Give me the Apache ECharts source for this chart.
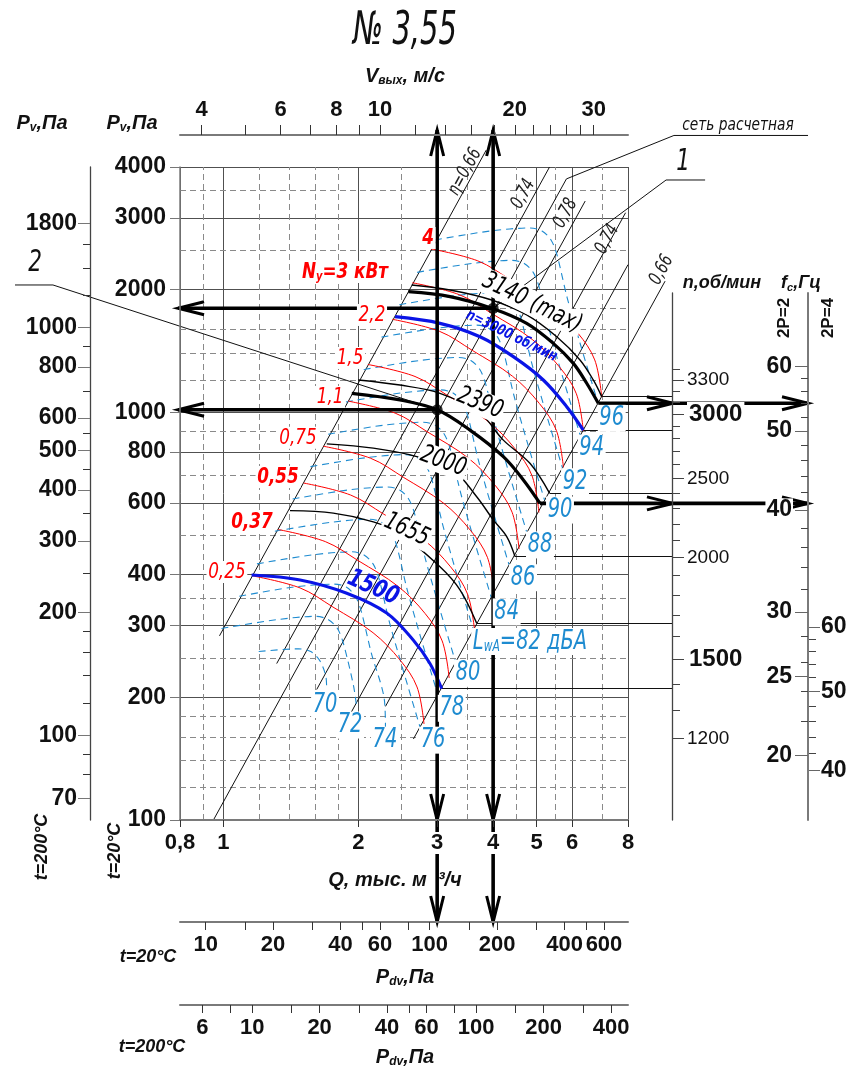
<!DOCTYPE html>
<html><head><meta charset="utf-8"><title>Fan chart 3.55</title>
<script src="https://cdn.jsdelivr.net/npm/echarts@6.0.0/dist/echarts.min.js"></script>
<style>html,body{margin:0;padding:0;background:#fff;}#chart{width:849px;height:1067px;}</style>
</head><body><div id="chart"></div>
<script>
// ---------------- axis tick values ----------------
const qLabels = [0.8, 1, 2, 3, 4, 5, 6, 8];
const pv20Labels = [100, 200, 300, 400, 600, 800, 1000, 2000, 3000, 4000];
const pv200Labels = [70, 100, 200, 300, 400, 500, 600, 800, 1000, 1800];
const pv200Minor = [80, 90, 120, 140, 160, 180, 250, 350, 450, 550, 700, 900, 1200, 1400, 1600];
const vLabels = [4, 6, 8, 10, 20, 30];
const vTicks = [4, 5, 6, 7, 8, 9, 10, 12, 14, 16, 18, 20, 22, 24, 26, 28, 30];
const pdv20Labels = [10, 20, 40, 60, 100, 200, 400, 600];
const pdv20Ticks = [10, 15, 20, 30, 40, 50, 60, 80, 100, 150, 200, 300, 400, 500, 600];
const pdv200Labels = [6, 10, 20, 40, 60, 100, 200, 400];
const pdv200Ticks = [6, 8, 10, 15, 20, 30, 40, 50, 60, 80, 100, 150, 200, 300, 400];
const nLabels = [1200, 1500, 2000, 2500, 3000, 3300];
const nMinor = [1300, 1400, 1600, 1700, 1800, 1900, 2100, 2200, 2300, 2400, 2600, 2700, 2800, 2900, 3100, 3200, 3400];
const f2Labels = [20, 25, 30, 40, 50, 60];
const f2Minor = [22, 24, 26, 28, 32, 34, 36, 38, 42, 44, 46, 48, 52, 54, 56, 58];
const f4Labels = [40, 50, 60];
const f4Minor = [42, 44, 46, 48, 52, 54, 56, 58];
const gridQSolid = [0.8, 1, 2, 3, 4, 5, 6, 8];
const gridQDashed = [0.9, 1.2, 1.4, 1.6, 1.8, 2.5, 3.5, 4.5, 5.5, 7];
const gridPSolid = [100, 200, 300, 400, 600, 800, 1000, 2000, 3000, 4000];
const gridPDashed = [120, 140, 160, 180, 250, 350, 500, 700, 900, 1200, 1400, 1600, 1800, 2500, 3500];

// scale relations between the auxiliary axes and Q / Pv(20°C)
const Q_PER_V = 0.2235, PDV20_K = 12.0, PDV200_K = 7.44, T_RATIO = 0.6195;
const N_MIN = 953, N_MAX = 4222, F2_K = 57.2, F4_K = 27.4;

// ---------------- fan curves [Q thousand m3/h, Pv Pa] ----------------
const curve3140 = [[2.632,2054],[3.205,1997],[3.970,1887],[4.753,1734],[5.546,1533],[6.251,1345],[6.693,1201],[6.988,1093]];
const curveOp1 = [[2.587,1978],[3.205,1923],[3.970,1801],[4.753,1654],[5.449,1477],[6.041,1319],[6.470,1179],[6.867,1053]];
const curve3000 = [[2.416,1717],[3.044,1654],[3.739,1533],[4.437,1370],[5.176,1201],[5.838,1033],[6.358,905]];
const curve2390 = [[2.0,1201],[2.478,1167],[3.044,1114],[3.739,995],[4.215,855],[4.833,750],[5.345,634]];
const curveOp2 = [[1.934,1114],[2.478,1073],[3.0,1015],[3.551,905],[4.215,779],[4.672,683],[5.089,598]];
const curve2000 = [[1.701,837],[2.161,817],[2.701,779],[3.255,722],[3.676,621],[4.003,545],[4.289,496],[4.476,443]];
const curve1655 = [[1.408,574],[1.759,566],[2.161,539],[2.478,505],[3.044,418],[3.373,367],[3.676,304]];
const curve1500 = [[1.156,399],[1.483,388],[1.885,360],[2.314,322],[2.655,276],[2.891,242],[3.071,210]];

// ---------------- power lines (kW) ----------------
const red025 = [[1.164,397],[1.483,371],[1.756,333],[2.158,288],[2.478,247],[2.705,212],[2.804,172]];
const red037 = [[1.325,516],[1.688,482],[1.998,433],[2.456,374],[2.820,321],[3.078,275],[3.191,223]];
const red055 = [[1.510,671],[1.923,627],[2.278,563],[2.799,487],[3.214,418],[3.508,358],[3.637,291]];
const red075 = [[1.672,826],[2.130,772],[2.522,693],[3.099,599],[3.558,514],[3.884,441],[4.027,358]];
const red110 = [[1.897,1066],[2.417,996],[2.862,894],[3.518,773],[4.039,663],[4.409,569],[4.571,462]];
const red150 = [[2.101,1311],[2.677,1225],[3.170,1099],[3.895,951],[4.473,815],[4.883,700],[5.061,568]];
const red220 = [[2.383,1692],[3.036,1581],[3.595,1419],[4.417,1227],[5.072,1052],[5.537,903],[5.740,733]];
const red300 = [[2.640,2080],[3.363,1944],[3.983,1745],[4.894,1509],[5.620,1294],[6.135,1111],[6.359,901]];
const red400 = [[2.902,2519],[3.697,2354],[4.378,2113],[5.380,1827],[6.178,1567],[6.743,1345],[6.990,1091]];

// ---------------- sound power level lines LwA (dB) ----------------
const lwa96 = [[2.966,2649],[3.936,2786],[4.833,2835],[5.142,2786],[5.386,2649],[5.554,2434],[5.847,1919],[6.251,1480],[6.856,1055]];
const lwa94 = [[2.707,2206],[3.592,2320],[4.411,2361],[4.693,2320],[4.915,2206],[5.069,2027],[5.336,1598],[5.705,1233],[6.257,879]];
const lwa92 = [[2.470,1837],[3.278,1932],[4.025,1966],[4.282,1932],[4.485,1837],[4.625,1688],[4.869,1331],[5.206,1027],[5.710,732]];
const lwa90 = [[2.254,1530],[2.991,1609],[3.673,1637],[3.908,1609],[4.093,1530],[4.221,1406],[4.444,1108],[4.751,855],[5.211,609]];
const lwa88 = [[2.057,1274],[2.730,1340],[3.352,1364],[3.567,1340],[3.736,1274],[3.852,1171],[4.055,923],[4.336,712],[4.755,508]];
const lwa86 = [[1.877,1061],[2.492,1116],[3.059,1136],[3.255,1116],[3.409,1061],[3.516,975],[3.701,769],[3.957,593],[4.340,423]];
const lwa84 = [[1.713,884],[2.274,930],[2.792,946],[2.971,930],[3.112,884],[3.209,812],[3.378,640],[3.611,494],[3.961,352]];
const lwa82 = [[1.564,736],[2.075,774],[2.548,788],[2.711,774],[2.840,736],[2.928,676],[3.083,533],[3.296,411],[3.614,293]];
const lwa80 = [[1.427,613],[1.894,645],[2.325,656],[2.474,645],[2.591,613],[2.672,564],[2.813,444],[3.007,343],[3.298,244]];
const lwa78 = [[1.302,511],[1.728,537],[2.122,547],[2.258,537],[2.365,511],[2.439,469],[2.567,370],[2.745,285],[3.010,203]];
const lwa76 = [[1.188,425],[1.577,447],[1.937,455],[2.060,447],[2.158,425],[2.225,391],[2.343,308],[2.505,238],[2.747,169]];
const lwa74 = [[1.085,354],[1.439,373],[1.767,379],[1.880,373],[1.970,354],[2.031,325],[2.138,257],[2.286,198],[2.30,168]];
const lwa72 = [[0.990,295],[1.313,310],[1.613,316],[1.716,310],[1.797,295],[1.853,271],[1.951,214],[1.98,192]];
const lwa70 = [[1.199,259],[1.472,263],[1.566,259],[1.641,246],[1.692,226],[1.70,210]];

// ---------------- straight system / efficiency lines ----------------
const effLeft066 = [[0.98,283],[3.86,4400]];
const effLeft074 = [[1.315,242],[5.345,4000]];
const netLine = [[0.95,100],[5.83,3740],[10.13,4780],[20.18,4780]];
const effMid = [[1.615,209],[6.42,3300]];
const effRight074 = [[1.93,184],[7.9,3089]];
const effExtra = [[2.3,190],[8.0,2304]];
const effRight066 = [[2.655,158],[9.68,2099]];
const leader1 = [[4,1801],[9.73,3717],[11.89,3717]];
const leader2 = [[3,1015],[0.4164,2054],[0.3426,2054]];
const endLineStarts = [[6.988,1093],[6.358,905],[5.345,634],[4.476,443],[3.676,304],[3.071,210]];
const N_AXIS_Q = 10.08, F_AXIS_Q = 20.18;

// ---------------- operating points and arrows [q1,p1,q2,p2] ----------------
const opPoints = [[3,1015],[4,1801]];
const arrows = [
  [3,1015,3,4930],[3,1015,3,100],[3,100,3,56.2],
  [4,1801,4,4930],[4,1801,4,100],[4,100,4,56.2],
  [3,1015,0.792,1015],[4,1801,0.792,1801],
  [6.867,1053,N_AXIS_Q,1053],[N_AXIS_Q,1053,F_AXIS_Q,1053],
  [5.089,598,N_AXIS_Q,598],[N_AXIS_Q,598,F_AXIS_Q,598]
];

// ---------------- in-plot labels [text, Q, Pv, ...] ----------------
const powerLabels = [['4',2.862,2679,true],['2,2',2.146,1734,false],['1,5',1.917,1360,false],['1,1',1.73,1091,false],
  ['0,75',1.467,866,false],['0,55',1.324,694,true],['0,37',1.158,538,true],['0,25',1.018,406,false]];
const nyLabel = [1.868, 2211];
const lwaLabels = [['96',7.358,967],['94',6.638,817],['92',6.094,676],['90',5.64,576],['88',5.089,473],['86',4.664,393],
  ['84',4.289,324],['80',3.515,229],['78',3.234,188],['76',2.937,157],['74',2.294,157],['72',1.917,171],['70',1.686,192]];
const lwaTitleLabel = [4.833, 274];
const speedLabels = [['3140 (max)',4.886,1855,-26],['2390',3.739,1053,-22],['2000',3.096,757,-20],['1655',2.565,515,-25]];
const blueLabels = [['1500',2.158,371,-24,25],['n=3000 об/мин',4.396,1540,-26,15]];
const effLabels = [['η=0,66',3.461,3889],['0,74',4.672,3434],['0,78',5.807,3080],['0,74',7.194,2659],['0,66',9.51,2236]];

// ================================================================
const NARROW = "'Liberation Sans Narrow','DejaVu Sans Condensed','Liberation Sans',Arial,sans-serif";
const SANS = "'Liberation Sans',Arial,sans-serif";
const comma = v => String(v).replace('.', ',');
const RED = '#ff0000', BLUE = '#0a14e6', LBLUE = '#1e8bd0';

function logAxis(o) {
  return Object.assign({type: 'log', logBase: 10, splitLine: {show: false}, minorTick: {show: false},
    minorSplitLine: {show: false}, axisPointer: {show: false}, silent: true}, o);
}
function tk(values, len, color) {
  return {show: true, customValues: values, length: len, lineStyle: {color: color || '#333', width: 1}};
}
function lb(values, o) {
  return Object.assign({show: true, customValues: values, formatter: v => comma(v), color: '#111',
    fontFamily: SANS, fontWeight: 'bold', fontSize: 22}, o || {});
}
const noLine = {show: false};
const noLabel = {show: false};

function curve(data, color, width, extra) {
  return Object.assign({type: 'line', xAxisIndex: 0, yAxisIndex: 0, data: data, smooth: 0.35, symbol: 'none',
    showSymbol: false, silent: true, z: 2, clip: false, lineStyle: {color: color, width: width}}, extra || {});
}
function segs(list) { return list.map(c => ({coords: c})); }

const series = [];
series.push({type: 'lines', coordinateSystem: 'cartesian2d', xAxisIndex: 0, yAxisIndex: 0, silent: true, z: 1, clip: false,
  lineStyle: {color: '#505050', width: 1, opacity: 1},
  data: gridQSolid.map(q => ({coords: [[q, 100], [q, 4000]]})).concat(gridPSolid.map(p => ({coords: [[0.8, p], [8, p]]})))});
series.push({type: 'lines', coordinateSystem: 'cartesian2d', xAxisIndex: 0, yAxisIndex: 0, silent: true, z: 1, clip: false,
  lineStyle: {color: '#8a8a8a', width: 1, opacity: 1, type: [6, 4]},
  data: gridQDashed.map(q => ({coords: [[q, 100], [q, 4000]]})).concat(gridPDashed.map(p => ({coords: [[0.8, p], [8, p]]})))});
series.push({type: 'lines', coordinateSystem: 'cartesian2d', xAxisIndex: 0, yAxisIndex: 0, silent: true, z: 2, clip: false,
  polyline: true, lineStyle: {color: '#111', width: 1, opacity: 1},
  data: segs([effLeft066, effLeft074, netLine, effMid, effRight074, effExtra, effRight066, leader1, leader2])});
series.push({type: 'lines', coordinateSystem: 'cartesian2d', xAxisIndex: 0, yAxisIndex: 0, silent: true, z: 2, clip: false,
  lineStyle: {color: '#111', width: 1, opacity: 1},
  data: endLineStarts.map(s => ({coords: [s, [N_AXIS_Q, s[1]]]}))});
[lwa96, lwa94, lwa92, lwa90, lwa88, lwa86, lwa84, lwa82, lwa80, lwa78, lwa76, lwa74, lwa72, lwa70].forEach(d => {
  series.push(curve(d, LBLUE, 1.1, {smooth: 0.3, lineStyle: {color: LBLUE, width: 1.1, type: [7, 5]}}));
});
[red025, red037, red055, red075, red110, red150, red220, red300, red400].forEach(d => series.push(curve(d, RED, 1)));
series.push(curve(curve3140, '#000', 1.4));
series.push(curve(curve2390, '#000', 1.4));
series.push(curve(curve2000, '#000', 1.4));
series.push(curve(curve1655, '#000', 1.4));
series.push(curve(curveOp1, '#000', 3.2));
series.push(curve(curveOp2, '#000', 3.2));
series.push(curve(curve3000, BLUE, 3.2));
series.push(curve(curve1500, BLUE, 3));
series.push({type: 'custom', xAxisIndex: 0, yAxisIndex: 0, z: 3, silent: true, clip: false,
  encode: {x: [0, 2], y: [1, 3]}, data: arrows,
  renderItem: function (params, api) {
    const a = api.coord([api.value(0), api.value(1)]);
    const b = api.coord([api.value(2), api.value(3)]);
    const dx = b[0] - a[0], dy = b[1] - a[1], len = Math.sqrt(dx * dx + dy * dy) || 1;
    const ux = dx / len, uy = dy / len, L = 26, W = 6.5;
    const bx = b[0] - ux * L, by = b[1] - uy * L;
    return {type: 'group', children: [
      {type: 'line', shape: {x1: a[0], y1: a[1], x2: b[0], y2: b[1]}, style: {stroke: '#000', lineWidth: 3.6}},
      {type: 'polyline', shape: {points: [[bx - uy * W, by + ux * W], [b[0], b[1]], [bx + uy * W, by - ux * W]]},
        style: {stroke: '#000', lineWidth: 3, fill: null, lineJoin: 'miter'}}
    ]};
  }});
series.push({type: 'scatter', xAxisIndex: 0, yAxisIndex: 0, z: 4, silent: true, clip: false, symbolSize: 11,
  itemStyle: {color: '#000'}, data: opPoints});

// label specs (drawn by a custom series at data coordinates)
const specs = [];
const f = (st, wt, sz) => st + ' ' + wt + ' ' + sz + 'px ' + NARROW;
powerLabels.forEach(([t, q, p, b]) => specs.push({q, p, text: t, font: f('italic', b ? 'bold' : 'normal', 22), fill: RED, bg: '#fff', sx: 0.85, rot: 0}));
specs.push({q: nyLabel[0], p: nyLabel[1], text: '{m|N}{s|у}{m|=3 кВт}', bg: '#fff', sx: 0.85, rot: 0,
  rich: {m: {font: f('italic', 'bold', 22), fill: RED}, s: {font: f('italic', 'bold', 13), fill: RED, verticalAlign: 'bottom', padding: [9, 0, 0, 0]}}});
lwaLabels.forEach(([t, q, p]) => specs.push({q, p, text: t, font: f('italic', 'normal', 27), fill: LBLUE, bg: '#fff', sx: 0.8, rot: 0}));
specs.push({q: lwaTitleLabel[0], p: lwaTitleLabel[1], text: '{m|L}{s|wA}{m|=82 дБА}', bg: '#fff', sx: 0.8, rot: 0,
  rich: {m: {font: f('italic', 'normal', 27), fill: LBLUE}, s: {font: f('italic', 'normal', 15), fill: LBLUE, verticalAlign: 'bottom', padding: [11, 0, 0, 0]}}});
speedLabels.forEach(([t, q, p, r]) => specs.push({q, p, text: t, font: f('italic', 'normal', 25), fill: '#000', bg: '#fff', sx: 0.82, rot: r}));
blueLabels.forEach(([t, q, p, r, s]) => specs.push({q, p, text: t, font: f('italic', 'bold', s), fill: BLUE, bg: null, sx: 0.85, rot: r}));
effLabels.forEach(([t, q, p]) => specs.push({q, p, text: t, font: f('italic', 'normal', 19), fill: '#222', bg: null, sx: 0.8, rot: 61.5}));

series.push({type: 'custom', xAxisIndex: 0, yAxisIndex: 0, z: 5, silent: true, clip: false,
  data: specs.map(s => [s.q, s.p]),
  renderItem: function (params, api) {
    const s = specs[params.dataIndex];
    const pt = api.coord([api.value(0), api.value(1)]);
    const style = {text: s.text, fill: s.fill || '#000', align: 'center', verticalAlign: 'middle'};
    if (s.font) style.font = s.font;
    if (s.rich) style.rich = s.rich;
    if (s.bg) { style.backgroundColor = s.bg; style.padding = [0, 2, 0, 2]; }
    return {type: 'text', x: pt[0], y: pt[1], rotation: s.rot * Math.PI / 180, scaleX: s.sx, style: style};
  }});

// ---------------- outside texts ----------------
function txt(x, y, text, font, extra) {
  return Object.assign({type: 'text', x: x, y: y, silent: true, z: 10,
    style: {text: text, font: font, fill: '#111', align: 'center', verticalAlign: 'middle'}}, extra || {});
}
function sub(x, y, a, s, b, size, rot) {
  return {type: 'text', x: x, y: y, rotation: rot || 0, silent: true, z: 10,
    style: {text: '{a|' + a + '}{s|' + s + '}{a|' + b + '}', align: 'center', verticalAlign: 'middle',
      rich: {a: {font: 'italic bold ' + size + 'px ' + SANS, fill: '#111'},
             s: {font: 'italic bold ' + Math.round(size * 0.6) + 'px ' + SANS, fill: '#111', verticalAlign: 'bottom', padding: [Math.round(size * 0.5), 0, 0, 0]}}}};
}
const graphic = [
  txt(405, 32, '№ 3,55', 'italic normal 46px ' + NARROW, {scaleX: 0.7}),
  sub(405, 76, 'V', 'вых', ', м/с', 20),
  sub(42, 123, 'P', 'v', ',Па', 20),
  sub(132, 123, 'P', 'v', ',Па', 20),
  txt(722, 283, 'n,об/мин', 'italic bold 18px ' + SANS),
  sub(801, 283, 'f', 'c', ',Гц', 18),
  txt(784, 318, '2P=2', 'bold 17px ' + SANS, {rotation: Math.PI / 2}),
  txt(828, 318, '2P=4', 'bold 17px ' + SANS, {rotation: Math.PI / 2}),
  txt(42, 847, 't=200°C', 'italic bold 18px ' + SANS, {rotation: Math.PI / 2}),
  txt(115, 851, 't=20°C', 'italic bold 18px ' + SANS, {rotation: Math.PI / 2}),
  txt(395, 880, 'Q, тыс. м  ³/ч', 'italic bold 20px ' + SANS),
  txt(148, 957, 't=20°C', 'italic bold 18px ' + SANS),
  sub(405, 977, 'P', 'dv', ',Па', 20),
  txt(152, 1047, 't=200°C', 'italic bold 18px ' + SANS),
  sub(405, 1057, 'P', 'dv', ',Па', 20),
  txt(738, 125, 'сеть расчетная', 'italic 18px ' + NARROW, {scaleX: 0.85}),
  txt(683, 162, '1', 'italic 30px ' + NARROW, {scaleX: 0.8}),
  txt(35, 263, '2', 'italic 30px ' + NARROW, {scaleX: 0.8})
];

const grayLine = w => ({show: true, lineStyle: {color: '#7a7a7a', width: w}});
const darkLine = w => ({show: true, lineStyle: {color: '#444', width: w}});

const option = {
  animation: false,
  backgroundColor: '#fff',
  grid: [
    {left: 180, top: 167, width: 448, height: 653, containLabel: false, outerBoundsMode: 'none'},
    {left: 672, top: 293, width: 1, height: 527, containLabel: false, outerBoundsMode: 'none'},
    {left: 808, top: 293, width: 1, height: 527, containLabel: false, outerBoundsMode: 'none'}
  ],
  xAxis: [
    logAxis({gridIndex: 0, min: 0.8, max: 8, position: 'bottom', z: 6, axisLine: grayLine(2),
      axisTick: tk(qLabels, 7), axisLabel: lb(qLabels, {margin: 12, backgroundColor: '#fff', padding: [0, 2, 0, 2]})}),
    logAxis({gridIndex: 0, min: 0.8 / Q_PER_V, max: 8 / Q_PER_V, position: 'top', offset: 32, z: 6,
      axisLine: grayLine(2), axisTick: tk(vTicks, 10), axisLabel: lb(vLabels, {margin: 14})}),
    logAxis({gridIndex: 0, min: PDV20_K * 0.64, max: PDV20_K * 64, position: 'bottom', offset: 102, z: 6,
      axisLine: grayLine(2), axisTick: tk(pdv20Ticks, 8), axisLabel: lb(pdv20Labels, {margin: 12})}),
    logAxis({gridIndex: 0, min: PDV200_K * 0.64, max: PDV200_K * 64, position: 'bottom', offset: 185, z: 6,
      axisLine: grayLine(2), axisTick: tk(pdv200Ticks, 8), axisLabel: lb(pdv200Labels, {margin: 12})}),
    {type: 'value', gridIndex: 1, show: false, min: 0, max: 1},
    {type: 'value', gridIndex: 2, show: false, min: 0, max: 1}
  ],
  yAxis: [
    logAxis({gridIndex: 0, min: 100, max: 4000, position: 'left', z: 6, axisLine: grayLine(1.5),
      axisTick: tk(pv20Labels, 10, '#777'), axisLabel: lb(pv20Labels, {margin: 14, fontSize: 23})}),
    logAxis({gridIndex: 0, min: 100 * T_RATIO, max: 4000 * T_RATIO, position: 'left', offset: 90, z: 6,
      axisLine: darkLine(1.3), axisTick: tk(pv200Labels, 12, '#777'), axisLabel: lb(pv200Labels, {margin: 13, fontSize: 23})}),
    logAxis({gridIndex: 0, min: 100 * T_RATIO, max: 4000 * T_RATIO, position: 'left', offset: 90, z: 6,
      axisLine: noLine, axisTick: tk(pv200Minor, 7), axisLabel: noLabel}),
    logAxis({gridIndex: 1, min: N_MIN, max: N_MAX, position: 'right', z: 6, axisLine: darkLine(1.3),
      axisTick: tk(nLabels, 12, '#444'),
      axisLabel: lb(nLabels, {margin: 14, fontWeight: 'normal', fontSize: 19,
        formatter: v => (v === 3000 || v === 1500) ? '{b|' + v + '}' : '{r|' + v + '}',
        rich: {b: {fontWeight: 'bold', fontSize: 24, fontFamily: SANS, color: '#111', backgroundColor: '#fff', padding: [0, 2, 0, 2]},
               r: {fontSize: 19, fontFamily: SANS, color: '#111'}}})}),
    logAxis({gridIndex: 1, min: N_MIN, max: N_MAX, position: 'right', z: 6, axisLine: noLine,
      axisTick: tk(nMinor, 7, '#444'), axisLabel: noLabel}),
    logAxis({gridIndex: 2, min: N_MIN / F2_K, max: N_MAX / F2_K, position: 'left', z: 6, axisLine: grayLine(2),
      axisTick: tk(f2Labels, 13, '#666'), axisLabel: lb(f2Labels, {margin: 15, fontSize: 23, backgroundColor: '#fff', padding: [0, 1, 0, 1]})}),
    logAxis({gridIndex: 2, min: N_MIN / F2_K, max: N_MAX / F2_K, position: 'left', z: 6, axisLine: noLine,
      axisTick: tk(f2Minor, 7, '#444'), axisLabel: noLabel}),
    logAxis({gridIndex: 2, min: N_MIN / F4_K, max: N_MAX / F4_K, position: 'right', z: 6, axisLine: noLine,
      axisTick: tk(f4Labels, 11, '#666'), axisLabel: lb(f4Labels, {margin: 12, fontSize: 23})}),
    logAxis({gridIndex: 2, min: N_MIN / F4_K, max: N_MAX / F4_K, position: 'right', z: 6, axisLine: noLine,
      axisTick: tk(f4Minor, 7, '#444'), axisLabel: noLabel})
  ],
  graphic: graphic,
  series: series
};

const chart = echarts.init(document.getElementById('chart'), null, {renderer: 'canvas', width: 849, height: 1067});
chart.setOption(option);
</script></body></html>
